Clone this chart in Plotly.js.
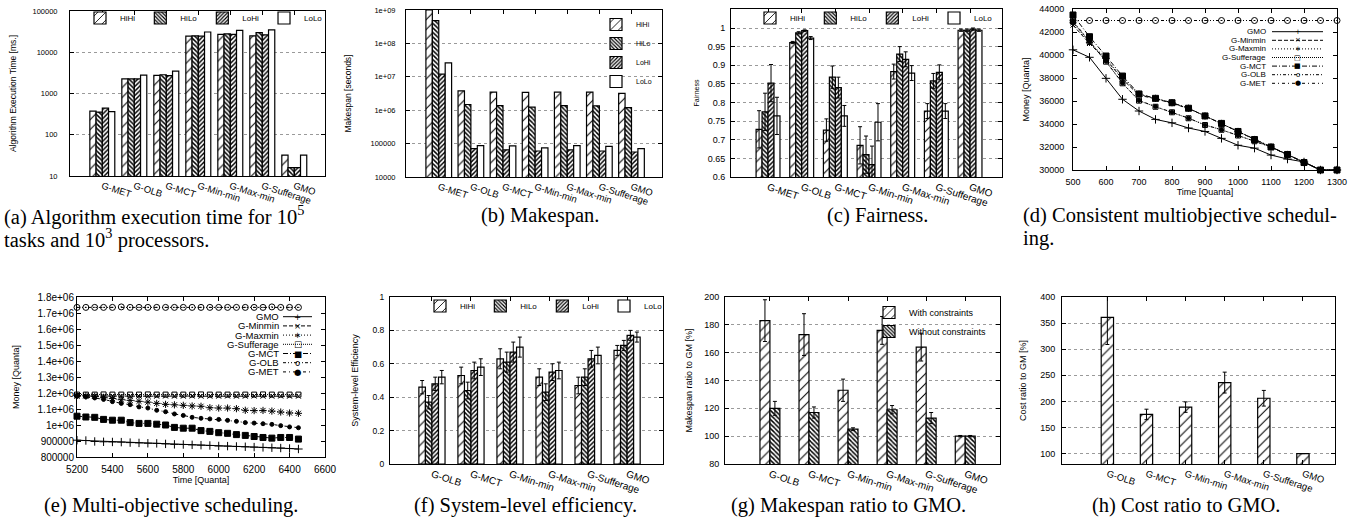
<!DOCTYPE html>
<html><head><meta charset="utf-8">
<script src="https://cdn.plot.ly/plotly-3.0.1.min.js"></script>
<style>html,body{margin:0;padding:0;background:#fff;}#chart{width:1357px;height:520px;}</style>
</head><body><div id="chart"></div>
<script>
// ---------------- DATA ----------------
const catsA = ['G-MET','G-OLB','G-MCT','G-Min-min','G-Max-min','G-Sufferage','GMO'];
const catsF = ['G-OLB','G-MCT','G-Min-min','G-Max-min','G-Sufferage','GMO'];
const seriesNames = ['HiHi','HiLo','LoHi','LoLo'];

// (a) Algorithm execution time [ms.]
const execHiHi = [375, 2250, 2750, 24500, 27000, 25000, 32];
const execHiLo = [355, 2250, 2850, 25000, 28000, 30000, 16];
const execLoHi = [440, 2250, 2700, 24500, 27000, 26500, 16];
const execLoLo = [365, 2800, 3500, 31000, 34000, 35000, 32];
const logTicksA = [10, 100, 1000, 10000, 100000];
const logTextA = ['10','100','1000','10000','100000'];

// (b) Makespan [seconds]
const mkHiHi = [1e9, 3.8e6, 3.5e6, 3.4e6, 3.5e6, 3.5e6, 3.2e6];
const mkHiLo = [4.8e8, 1.48e6, 1.38e6, 1.23e6, 1.38e6, 1.35e6, 1.2e6];
const mkLoHi = [1.2e7, 7.1e4, 6.5e4, 6.0e4, 6.5e4, 6.0e4, 5.6e4];
const mkLoLo = [2.6e7, 8.7e4, 8.5e4, 7.4e4, 8.7e4, 8.3e4, 7.1e4];
const logTicksB = [1e4, 1e5, 1e6, 1e7, 1e8, 1e9];
const logTextB = ['10000','100000','1e+06','1e+07','1e+08','1e+09'];

// (c) Fairness
const fHiHi = [0.728, 0.961, 0.726, 0.685, 0.883, 0.777, 0.994];
const fHiLo = [0.775, 0.987, 0.868, 0.660, 0.930, 0.858, 0.994];
const fLoHi = [0.852, 0.993, 0.840, 0.633, 0.916, 0.881, 0.997];
const fLoLo = [0.764, 0.973, 0.764, 0.747, 0.879, 0.777, 0.994];
const fErrHiHi = [0.05, 0.003, 0.03, 0.05, 0.02, 0.02, 0.003];
const fErrHiLo = [0.05, 0.003, 0.03, 0.05, 0.02, 0.02, 0.003];
const fErrLoHi = [0.05, 0.002, 0.028, 0.05, 0.02, 0.02, 0.003];
const fErrLoLo = [0.05, 0.004, 0.028, 0.05, 0.02, 0.02, 0.003];
const fairTicks = [0.6, 0.65, 0.7, 0.75, 0.8, 0.85, 0.9, 0.95, 1];
const fairText = ['0.6','0.65','0.7','0.75','0.8','0.85','0.9','0.95','1'];

// (d) Consistent multiobjective scheduling
const lineNames = ['GMO','G-Minmin','G-Maxmin','G-Sufferage','G-MCT','G-OLB','G-MET'];
const tD = [500,550,600,650,700,750,800,850,900,950,1000,1050,1100,1150,1200,1250,1300];
const dGMO = [40450,39800,37970,36150,35130,34400,34100,33650,33350,32750,32150,31900,31300,30950,30700,30000,30000];
const dMinmin = [42600,41000,39600,37900,36500,36200,35800,35350,34700,34050,33350,32650,32000,31350,30650,30000,30000];
const dMaxmin = [42800,41100,39700,38000,36600,36230,35850,35370,34700,34050,33350,32650,32000,31350,30650,30000,30000];
const dSufferage = [42900,41160,39420,37540,36030,35500,35020,34500,33910,33500,33000,32500,32000,31350,30650,30000,30000];
const dMCT = [43480,41590,39910,38170,36610,36230,35850,35370,34700,34050,33350,32650,32000,31350,30650,30000,30000];
const dOLB = [43000,43000,43000,43000,43000,43000,43000,43000,43000,43000,43000,43000,43000,43000,43000,43000,43000];
const dMET = [42950,41200,39450,37560,36050,35520,35030,34510,33920,33500,33000,32500,32000,31350,30650,30000,30000];

// (e) Multi-objective scheduling
const tE = [5200,5250,5300,5350,5400,5450,5500,5550,5600,5650,5700,5750,5800,5850,5900,5950,6000,6050,6100,6150,6200,6250,6300,6350,6400,6450];
const eGMO = [905000,903000,897000,895000,894000,893000,890000,888000,886000,885000,882000,879000,878000,876000,874000,872000,869000,868000,866000,864000,862000,860000,858000,856000,853000,850000];
const eMinmin = [1180000,1182000,1181000,1181000,1180000,1181000,1180000,1181000,1180000,1180000,1181000,1180000,1180000,1181000,1180000,1180000,1180000,1181000,1180000,1180000,1181000,1180000,1180000,1181000,1180000,1180000];
const eMaxmin = [1185000,1183000,1180000,1173000,1165000,1158000,1154000,1148000,1143000,1135000,1129000,1126000,1123000,1119000,1117000,1108000,1106000,1106000,1102000,1092000,1090000,1091000,1087000,1081000,1075000,1073000];
const eSufferage = [1190000,1190000,1190000,1191000,1190000,1190000,1190000,1190000,1191000,1190000,1190000,1190000,1190000,1190000,1191000,1190000,1190000,1190000,1190000,1190000,1190000,1191000,1190000,1190000,1190000,1190000];
const eMCT = [1055000,1050000,1048000,1035000,1030000,1030000,1015000,1010000,1010000,1005000,1000000,985000,980000,980000,965000,960000,952000,948000,940000,935000,928000,922000,918000,922000,922000,912000];
const eOLB = [1735000,1735000,1735000,1735000,1735000,1738000,1735000,1735000,1735000,1735000,1735000,1735000,1735000,1735000,1735000,1735000,1735000,1735000,1735000,1735000,1735000,1735000,1738000,1735000,1735000,1735000];
const eMET = [1179000,1175000,1169000,1160000,1146000,1135000,1127000,1113000,1106000,1092000,1083000,1069000,1060000,1048000,1042000,1038000,1035000,1029000,1023000,1015000,1012000,1008000,1004000,996000,988000,983000];
const moneyTicksE = [800000,900000,1000000,1100000,1200000,1300000,1400000,1500000,1600000,1700000,1800000];
const moneyTextE = ['800000','900000','1e+06','1.1e+06','1.2e+06','1.3e+06','1.4e+06','1.5e+06','1.6e+06','1.7e+06','1.8e+06'];

// (f) System-level efficiency
const effHiHi = [0.46, 0.53, 0.63, 0.52, 0.47, 0.68];
const effHiLo = [0.37, 0.44, 0.61, 0.43, 0.52, 0.71];
const effLoHi = [0.48, 0.56, 0.67, 0.55, 0.63, 0.77];
const effLoLo = [0.52, 0.58, 0.70, 0.56, 0.65, 0.76];
const effErrHiHi = [0.04, 0.05, 0.06, 0.05, 0.05, 0.03];
const effErrHiLo = [0.04, 0.05, 0.06, 0.05, 0.05, 0.03];
const effErrLoHi = [0.04, 0.05, 0.06, 0.05, 0.05, 0.03];
const effErrLoLo = [0.04, 0.05, 0.06, 0.05, 0.05, 0.03];

// (g) Makespan ratio to GMO [%]
const ratioNames = ['With constraints','Without constraints'];
const mrWith = [183, 173, 133, 176, 164, 100];
const mrWithErr = [15, 15, 8, 10, 10, 0.5];
const mrWithout = [120, 117, 105, 119, 113, 100];
const mrWithoutErr = [5, 4, 1, 3, 4, 0.5];

// (h) Cost ratio to GMO [%]
const costRatio = [361, 175, 189, 236, 206, 100];
const costErr = [52, 10, 10, 20, 15, 0];

// ---------------- STYLE / LAYOUT ----------------
const W = 1357, H = 520;
const SANS = 'Liberation Sans, Arial, Helvetica, sans-serif';
const SERIF = 'Liberation Serif, Times New Roman, serif';
const traces = [];
const layout = {
  width: W, height: H, margin: {l:0, r:0, t:0, b:0},
  paper_bgcolor: 'white', plot_bgcolor: 'white',
  font: {family: SANS, color: 'black'},
  barmode: 'group', hovermode: false, showlegend: true,
  annotations: [], shapes: []
};
const px2x = p => p / W;
const px2y = p => 1 - p / H;
const sfx = k => (k === 1 ? '' : String(k));

function addAxes(k, box, xopt, yopt) {
  const common = {showline:true, linecolor:'black', linewidth:1, mirror:'ticks', ticks:'inside',
    ticklen:4, tickcolor:'black', tickwidth:1, zeroline:false, fixedrange:true, automargin:false};
  layout['xaxis' + sfx(k)] = Object.assign({}, common,
    {domain:[box.x0 / W, box.x1 / W], anchor:'y' + sfx(k), showgrid:false}, xopt);
  layout['yaxis' + sfx(k)] = Object.assign({}, common,
    {domain:[1 - box.y1 / H, 1 - box.y0 / H], anchor:'x' + sfx(k), showgrid:true,
     gridcolor:'#9a9a9a', griddash:'dot', gridwidth:1}, yopt);
}

const PAT = {
  HiHi: {shape:'/', size:7, solidity:0.15, fgcolor:'black', bgcolor:'white'},
  HiLo: {shape:'\\', size:3.2, solidity:0.45, fgcolor:'black', bgcolor:'white'},
  LoHi: {shape:'/', size:3.2, solidity:0.45, fgcolor:'black', bgcolor:'white'},
  LoLo: {shape:'', fgcolor:'black', bgcolor:'white'}
};

function addBars(k, cats, series, names, pats, errs, gap, legendName) {
  const n = series.length, gw = 1 - gap, w = gw / n;
  series.forEach((vals, i) => {
    const t = {type:'bar', x:cats, y:vals, name:names[i], xaxis:'x' + sfx(k), yaxis:'y' + sfx(k),
      width:w, offset:-gw / 2 + i * w,
      marker:{color:'white', line:{color:'black', width:1.2}, pattern:pats[i]},
      legend:legendName || 'legend', showlegend:!!legendName, hoverinfo:'skip'};
    if (errs) t.error_y = {type:'data', array:errs[i], visible:true, color:'black', thickness:1, width:2};
    traces.push(t);
  });
}

function catAxis(range, fs) {
  return {type:'category', range:range, tickangle:18, tickfont:{family:SANS, size:fs, color:'black'}};
}
function yTitle(text, fs, standoff) {
  return {text:text, font:{family:SANS, size:fs, color:'black'}, standoff:standoff};
}
function legendBox(orient, x, xanchor, y, yanchor, fs) {
  return {orientation:orient, x:px2x(x), xanchor:xanchor, y:px2y(y), yanchor:yanchor,
    font:{family:SANS, size:fs, color:'#000000'}, bgcolor:'rgba(0,0,0,0)', borderwidth:0,
    traceorder:'normal'};
}

const patList = [PAT.HiHi, PAT.HiLo, PAT.LoHi, PAT.LoLo];

// (a)
const boxA = {x0:70, x1:325, y0:11, y1:176};
addAxes(1, boxA, catAxis([-1.01, 6.96], 9.5),
  {type:'log', range:[1, 5], tickvals:logTicksA, ticktext:logTextA, tickfont:{family:SANS, size:7.5},
   ticklabelstandoff:10, title:yTitle('Algorithm Execution Time [ms.]', 8.5, 14)});
addBars(1, catsA, [execHiHi, execHiLo, execLoHi, execLoLo], seriesNames, patList, null, 0.22, 'legend');
layout.legend = legendBox('h', 80, 'left', 18, 'middle', 8);

// (b)
const boxB = {x0:406, x1:662, y0:10, y1:177};
addAxes(2, boxB, catAxis([-1.02, 6.95], 9.5),
  {type:'log', range:[4, 9], tickvals:logTicksB, ticktext:logTextB, tickfont:{family:SANS, size:7.5},
   ticklabelstandoff:8, title:yTitle('Makespan [seconds]', 8.5, 17)});
addBars(2, catsA, [mkHiHi, mkHiLo, mkLoHi, mkLoLo], seriesNames, patList, null, 0.2, 'legend2');
layout.legend2 = legendBox('v', 657, 'right', 10, 'top', 7);

// (c)
const boxC = {x0:731, x1:1002, y0:9, y1:177};
addAxes(3, boxC, catAxis([-1.1, 6.95], 10),
  {range:[0.6, 1.051], tickvals:fairTicks, ticktext:fairText, tickfont:{family:SANS, size:9},
   ticklabelstandoff:3, title:yTitle('Fairness', 7, 7)});
addBars(3, catsA, [fHiHi, fHiLo, fLoHi, fLoLo], seriesNames, patList,
  [fErrHiHi, fErrHiLo, fErrLoHi, fErrLoLo], 0.29, 'legend3');
layout.legend3 = legendBox('h', 750, 'left', 18, 'middle', 8);

// line styles for (d) and (e)
const LSTY = [
  {dash:'solid', symbol:'cross-thin-open', size:6, glyph:'+'},
  {dash:'4px,2px', symbol:'x-thin-open', size:5, glyph:'×'},
  {dash:'1px,2px', symbol:'asterisk-open', size:6, glyph:'∗'},
  {dash:'1px,1px', symbol:'square-open', size:5, glyph:'□'},
  {dash:'5px,2px,1px,2px', symbol:'square', size:6, glyph:'■'},
  {dash:'3px,2px,1px,2px,1px,2px', symbol:'circle-open-dot', size:6, glyph:'o'},
  {dash:'3px,3px,1px,3px', symbol:'circle', size:4, glyph:'●'}
];
function addLines(k, xs, ys) {
  ys.forEach((vals, i) => {
    const s = LSTY[i];
    traces.push({type:'scatter', mode:'lines+markers', x:xs, y:vals, name:lineNames[i],
      xaxis:'x' + sfx(k), yaxis:'y' + sfx(k), showlegend:false, cliponaxis:false, hoverinfo:'skip',
      line:{color:'black', width:1, dash:s.dash},
      marker:{symbol:s.symbol, size:s.size, color:'black', line:{color:'black', width:1}}});
  });
}
function customLegend(textRight, x0, x1, yStart, dy, fs) {
  lineNames.forEach((nm, i) => {
    const y = yStart + i * dy, s = LSTY[i];
    layout.annotations.push({xref:'paper', yref:'paper', x:px2x(textRight), y:px2y(y), xanchor:'right',
      yanchor:'middle', text:nm, showarrow:false, borderpad:0, font:{family:SANS, size:fs, color:'black'}});
    layout.shapes.push({type:'line', xref:'paper', yref:'paper', x0:px2x(x0), x1:px2x(x1),
      y0:px2y(y), y1:px2y(y), line:{color:'black', width:1, dash:s.dash}});
    layout.annotations.push({xref:'paper', yref:'paper', x:px2x((x0 + x1) / 2), y:px2y(y), xanchor:'center',
      yanchor:'middle', text:s.glyph, showarrow:false, borderpad:0,
      font:{family:'DejaVu Sans', size:fs - 1, color:'black'}});
  });
}

// (d)
const boxD = {x0:1073, x1:1337, y0:9, y1:170};
addAxes(4, boxD,
  {range:[500, 1300], dtick:100, tickformat:'d', tickfont:{family:SANS, size:9}, ticklabelstandoff:3,
   title:{text:'Time [Quanta]', font:{family:SANS, size:9}, standoff:2}},
  {range:[30000, 44000], dtick:2000, tickformat:'d', showgrid:false,
   tickfont:{family:SANS, size:9}, ticklabelstandoff:6, title:yTitle('Money [Quanta]', 9, 8)});
addLines(4, tD, [dGMO, dMinmin, dMaxmin, dSufferage, dMCT, dOLB, dMET]);
customLegend(1267, 1272, 1323, 31.7, 8.6, 8);

// (e)
const boxE = {x0:77, x1:325, y0:297, y1:457};
addAxes(5, boxE,
  {range:[5200, 6600], dtick:200, tickformat:'d', tickfont:{family:SANS, size:10}, ticklabelstandoff:3,
   title:{text:'Time [Quanta]', font:{family:SANS, size:9}, standoff:2}},
  {range:[800000, 1800000], tickvals:moneyTicksE, ticktext:moneyTextE, showgrid:false,
   tickfont:{family:SANS, size:10}, ticklabelstandoff:0, title:yTitle('Money [Quanta]', 9, 16)});
addLines(5, tE, [eGMO, eMinmin, eMaxmin, eSufferage, eMCT, eOLB, eMET]);
customLegend(280, 283, 312, 316.7, 9.2, 9.5);

// (f)
const boxF = {x0:390, x1:663, y0:297, y1:464};
addAxes(6, boxF, catAxis([-1.075, 5.92], 10),
  {range:[0, 1], dtick:0.2, tickfont:{family:SANS, size:8.5}, ticklabelstandoff:3,
   title:yTitle('System-level Efficiency', 9, 12)});
addBars(6, catsF, [effHiHi, effHiLo, effLoHi, effLoLo], seriesNames, patList,
  [effErrHiHi, effErrHiLo, effErrLoHi, effErrLoLo], 0.33, 'legend4');
layout.legend4 = legendBox('h', 420, 'left', 306, 'middle', 8);

// (g)
const boxG = {x0:725, x1:1000, y0:297, y1:464};
addAxes(7, boxG, catAxis([-1.15, 5.89], 10),
  {range:[80, 200], dtick:20, tickfont:{family:SANS, size:9}, ticklabelstandoff:3,
   title:yTitle('Makespan ratio to GM [%]', 9, 10)});
addBars(7, catsF, [mrWith, mrWithout], ratioNames, [PAT.HiHi, PAT.HiLo],
  [mrWithErr, mrWithoutErr], 0.49, 'legend5');
layout.legend5 = legendBox('v', 992, 'right', 298, 'top', 9);

// (h)
const boxH = {x0:1062, x1:1335, y0:297, y1:464};
addAxes(8, boxH, catAxis([-1.16, 5.82], 9.5),
  {range:[80, 400], tick0:0, dtick:50, tickfont:{family:SANS, size:9}, ticklabelstandoff:4,
   title:yTitle('Cost ratio to GM [%]', 9, 12)});
addBars(8, catsF, [costRatio], ['Cost ratio'], [PAT.HiHi], [costErr], 0.685, null);

// captions
function caption(text, x, y, anchor) {
  layout.annotations.push({xref:'paper', yref:'paper', x:px2x(x), y:px2y(y), xanchor:anchor,
    yanchor:'middle', text:text, showarrow:false, borderpad:0,
    font:{family:SERIF, size:20.5, color:'black'}});
}
caption('(a) Algorithm execution time for 10<sup>5</sup>', 3, 215, 'left');
caption('tasks and 10<sup>3</sup> processors.', 3, 239, 'left');
caption('(b) Makespan.', 540, 215, 'center');
caption('(c) Fairness.', 877, 215, 'center');
caption('(d) Consistent multiobjective schedul-', 1022, 215, 'left');
caption('ing.', 1022, 239, 'left');
caption('(e) Multi-objective scheduling.', 171, 505, 'center');
caption('(f) System-level efficiency.', 525, 505, 'center');
caption('(g) Makespan ratio to GMO.', 848, 505, 'center');
caption('(h) Cost ratio to GMO.', 1186, 505, 'center');

Plotly.newPlot('chart', traces, layout, {staticPlot:true, displayModeBar:false});
</script></body></html>
